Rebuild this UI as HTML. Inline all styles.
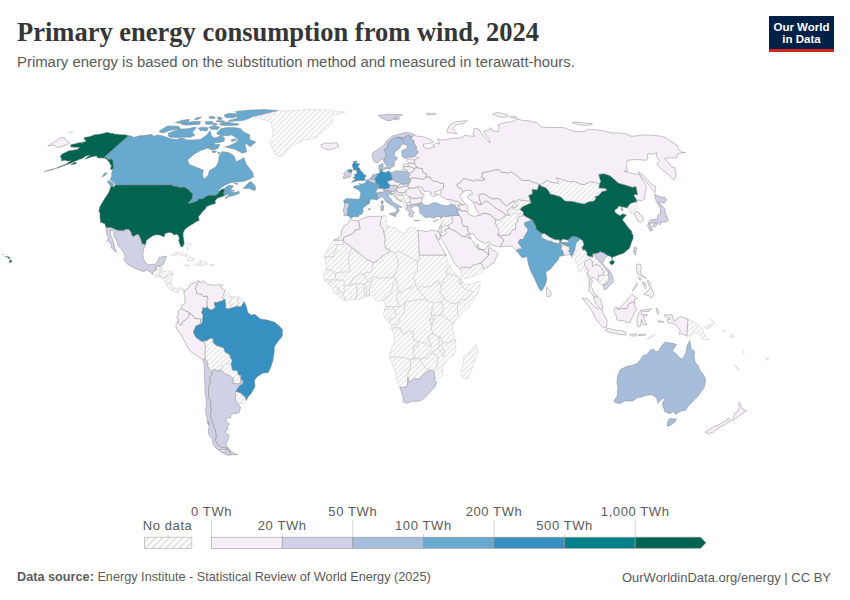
<!DOCTYPE html>
<html><head><meta charset="utf-8">
<style>
html,body{margin:0;padding:0;background:#fff;}
body{width:850px;height:600px;overflow:hidden;position:relative;font-family:"Liberation Sans",sans-serif;}
.t{position:absolute;white-space:nowrap;}
#title{left:17px;top:16.5px;font-family:"Liberation Serif",serif;font-weight:bold;font-size:26.5px;color:#363636;}
#sub{left:17px;top:53.5px;font-size:14.9px;color:#5b5b5b;}
#logo{position:absolute;left:769px;top:16px;width:65px;height:36px;background:#002147;}
#logo .red{position:absolute;left:0;bottom:0;width:65px;height:3px;background:#ce261e;}
#logo .l1,#logo .l2{position:absolute;left:0;width:65px;text-align:center;color:#fff;font-weight:bold;font-size:11.5px;line-height:12px;}
#logo .l1{top:19px}
#logo .l2{top:31px}
#foot1{left:17px;top:569.5px;font-size:12.7px;color:#5b5b5b;}
#foot2{right:19px;top:569.5px;font-size:13px;color:#5b5b5b;}
svg{position:absolute;left:0;top:0;}
.nd{fill:url(#hatch);stroke:#c8c8c8;stroke-width:0.45;}
path{stroke:#8a8a8a;stroke-width:0.5;stroke-linejoin:round;}
.bl{fill:none;}
.lg{font-family:"Liberation Sans",sans-serif;font-size:13px;letter-spacing:0.6px;fill:#5b5b5b;}
</style></head><body>
<div class="t" id="title">Primary energy consumption from wind, 2024</div>
<div class="t" id="sub">Primary energy is based on the substitution method and measured in terawatt-hours.</div>
<div id="logo"><div class="l1" style="top:5px">Our World</div><div class="l1" style="top:17px">in Data</div><div class="red"></div></div>
<svg width="850" height="600" viewBox="0 0 850 600">
<defs>
<pattern id="hatch" patternUnits="userSpaceOnUse" width="3.75" height="3.75" patternTransform="rotate(-45)">
<rect x="0" y="0" width="3.75" height="1.7" fill="#e8e8e8"/>
</pattern>
<pattern id="hatch2" patternUnits="userSpaceOnUse" width="4.8" height="4.8" patternTransform="rotate(-45)">
<rect x="0" y="0" width="4.8" height="1.6" fill="#dedede"/>
</pattern>
</defs>
<g id="map">
<path class="nd" d="M152.5,274.6 152.7,272.8 154.1,270.6 157.1,269.7 155.1,267.6 156.1,267.5 156.3,266.0 160.4,266.0 159.8,271.0 161.9,271.5 159.5,273.3 159.0,274.9 157.1,276.7 154.6,276.2Z"/>
<path class="nd" d="M160.4,266.0 162.6,264.2 162.7,266.8 162.0,269.4 160.4,271.0 159.8,271.0Z"/>
<path class="nd" d="M159.0,274.9 161.0,276.2 162.3,277.5 162.0,278.2 158.8,277.2 157.1,276.7Z"/>
<path class="nd" d="M159.0,274.9 159.5,273.3 161.9,271.5 167.0,271.0 170.9,271.2 173.2,273.3 169.7,274.1 167.2,276.5 164.7,277.8 163.3,278.6 162.3,277.5 161.0,276.2Z"/>
<path class="nd" d="M173.2,273.3 172.1,277.0 171.3,281.4 171.1,284.0 168.9,283.5 166.6,283.5 164.9,281.7 162.4,278.8 163.3,278.6 164.7,277.8 167.2,276.5 169.7,274.1Z"/>
<path class="nd" d="M171.1,284.0 173.7,287.4 172.5,291.3 171.2,290.5 167.9,287.4 166.2,285.3 166.6,283.5 168.9,283.5Z"/>
<path class="nd" d="M173.7,287.4 176.1,289.2 180.3,287.4 185.2,289.8 183.9,293.7 183.4,290.8 180.2,289.2 178.3,291.6 179.1,292.9 176.4,292.4 172.5,291.3Z"/>
<path class="nd" d="M171.4,255.3 173.7,253.5 178.4,252.2 181.7,252.5 186.5,254.3 188.9,256.1 192.2,257.7 195.1,259.5 193.4,260.5 187.1,260.5 188.0,258.5 185.8,256.1 181.3,255.6 178.3,254.5 174.6,255.1Z"/>
<path class="nd" d="M193.9,264.5 198.2,260.5 200.6,260.8 200.1,265.5 197.9,265.0Z"/>
<path class="nd" d="M200.6,260.8 204.7,261.3 208.0,263.9 204.3,264.5 200.7,266.5 200.1,265.5Z"/>
<path class="nd" d="M185.3,264.5 189.7,265.5 187.6,266.3 185.2,265.0Z"/>
<path class="nd" d="M210.5,264.2 214.1,264.7 213.5,265.5 210.4,265.5Z"/>
<path class="nd" d="M187.7,246.7 188.5,249.1 187.9,250.1 187.0,248.3ZM186.6,242.8 189.0,242.8 188.7,243.3ZM190.5,243.3 190.6,245.1 190.1,244.6Z"/>
<path class="nd" d="M221.0,286.1 223.2,284.3 223.3,286.1Z"/>
<path class="nd" d="M254.5,117.3 263.6,113.9 277.1,111.0 298.6,110.5 306.5,109.3 329.1,109.9 334.7,111.0 344.9,112.2 335.9,114.4 331.4,119.0 332.5,123.5 326.0,129.0 320.0,134.0 316.0,138.0 305.0,140.0 295.0,144.5 288.0,150.0 283.0,156.0 280.0,157.0 275.0,154.0 272.0,148.0 270.0,142.0 273.0,136.0 273.0,132.0 272.0,126.0 271.0,122.0 266.0,120.0 260.0,119.0Z"/>
<path class="nd" d="M225.2,290.3 228.5,293.4 231.4,296.8 231.1,299.4 229.5,302.0 230.4,303.9 232.6,307.5 228.2,309.1 225.7,307.8 225.7,304.6 225.3,301.2 224.5,298.9 223.3,298.9 221.8,297.1 223.9,294.7 223.7,293.2Z"/>
<path class="nd" d="M231.4,296.8 236.5,296.8 238.8,297.3 237.6,299.7 238.7,303.1 238.1,306.7 236.3,305.9 234.0,307.5 232.6,307.5 230.4,303.9 229.5,302.0 231.1,299.4Z"/>
<path class="nd" d="M238.8,297.3 241.3,298.4 244.2,301.5 241.1,306.7 238.1,306.7 238.7,303.1 237.6,299.7Z"/>
<path class="nd" d="M204.8,358.4 205.4,355.3 204.7,352.1 205.6,346.1 203.5,341.0 207.1,340.4 210.2,338.3 213.2,338.6 213.2,342.7 215.8,345.1 219.4,346.4 223.6,347.7 225.0,351.9 230.2,355.0 230.2,357.6 232.2,360.0 231.2,364.1 229.1,363.1 222.1,366.0 221.6,370.4 218.6,369.9 217.9,372.0 216.4,370.1 213.4,369.4 211.8,371.7 209.0,368.6 207.4,365.7 208.0,363.1 206.1,360.2Z"/>
<path class="nd" d="M231.2,364.1 232.4,370.1 237.2,370.7 238.5,375.1 241.0,375.1 240.7,379.3 240.9,382.7 238.8,384.0 232.3,383.2 234.0,379.0 228.8,375.1 225.9,374.6 221.6,370.4 222.1,366.0 229.1,363.1Z"/>
<path class="nd" d="M246.4,400.4 243.7,403.5 240.9,403.5 237.1,402.2 235.6,400.9 235.3,396.0 235.6,391.3 240.3,392.8 245.4,397.3Z"/>
<path class="nd" d="M396.0,194.7 399.8,195.0 402.3,195.5 403.8,197.8 403.0,199.1 401.8,201.7 399.6,200.4 395.6,196.5Z"/>
<path class="nd" d="M401.7,192.9 404.7,192.4 407.2,194.7 409.9,196.5 410.1,197.3 409.6,198.3 411.1,199.9 410.0,202.2 408.2,202.4 405.1,201.4 403.0,199.1 403.8,197.8 402.3,195.5 403.1,194.7Z"/>
<path class="nd" d="M401.8,201.7 403.0,199.1 405.1,201.4 403.8,203.2Z"/>
<path class="nd" d="M403.8,203.2 405.1,201.4 406.4,203.2 407.2,206.1 406.8,208.1 405.6,208.9 403.9,206.8 404.2,205.5Z"/>
<path class="nd" d="M416.9,187.1 418.6,186.3 422.3,187.8 424.4,191.4 422.4,192.7 421.1,193.9 420.4,190.6 418.3,188.1Z"/>
<path class="nd" d="M343.6,240.2 343.6,244.6 336.2,244.6 336.0,251.1 333.5,253.0 333.7,256.9 324.6,256.9 327.0,250.6 330.6,244.4 333.6,240.2Z"/>
<path class="nd" d="M381.6,216.2 385.0,215.4 387.0,216.2 386.0,219.1 387.1,220.6 385.0,223.0 387.5,225.6 388.2,226.1 385.7,229.7 384.0,233.7 382.8,228.7 379.7,225.8 380.8,220.6 381.2,218.8Z"/>
<path class="nd" d="M388.2,226.1 390.9,226.9 396.4,228.2 397.6,230.5 404.8,233.4 406.3,232.9 407.0,229.0 410.2,226.9 413.5,227.4 418.1,230.0 419.4,255.1 419.6,260.3 417.4,260.3 417.4,261.6 398.8,251.4 394.6,252.7 390.0,251.1 389.1,249.3 386.2,248.8 384.5,243.6 385.1,239.4 384.0,233.7 385.7,229.7Z"/>
<path class="nd" d="M446.3,255.1 447.9,263.1 450.3,265.5 447.0,268.4 446.4,275.2 446.0,277.2 443.8,279.3 443.0,283.5 441.7,284.8 441.3,287.7 438.4,280.6 437.0,281.7 431.8,285.6 425.0,287.4 420.6,285.6 417.9,290.0 415.5,284.0 414.5,280.4 413.4,278.8 415.3,272.0 417.7,271.5 417.4,261.6 417.4,260.3 419.6,260.3 419.4,255.1 433.9,255.1Z"/>
<path class="nd" d="M441.3,287.7 440.9,290.5 438.9,292.1 441.2,293.7 444.3,298.1 441.3,301.5 439.0,302.3 434.4,302.8 434.0,303.3 427.5,300.7 426.1,298.9 421.2,293.4 419.6,291.1 417.9,290.0 420.6,285.6 425.0,287.4 431.8,285.6 437.0,281.7 438.4,280.6Z"/>
<path class="nd" d="M450.3,265.5 452.6,271.0 457.1,274.6 460.5,278.8 461.7,279.3 460.1,279.9 456.3,275.7 451.0,274.9 449.5,273.6 446.4,275.2 447.0,268.4Z"/>
<path class="nd" d="M461.7,279.3 462.2,281.4 461.2,284.0 458.8,283.5 460.1,279.9Z"/>
<path class="nd" d="M446.4,275.2 449.5,273.6 451.0,274.9 456.3,275.7 460.1,279.9 458.8,283.5 461.2,284.0 464.1,289.0 473.1,291.6 466.6,299.4 462.0,299.7 459.5,302.0 454.7,303.6 450.6,303.1 448.0,301.0 445.7,300.5 444.3,298.1 441.2,293.7 438.9,292.1 440.9,290.5 441.3,287.7 441.7,284.8 443.0,283.5 443.8,279.3 446.0,277.2Z"/>
<path class="nd" d="M461.2,284.0 462.2,281.4 465.3,285.3 469.9,284.3 475.1,282.7 480.1,281.4 480.0,285.1 479.7,289.0 477.1,294.7 473.5,300.7 469.0,306.5 464.4,309.9 459.8,315.1 458.9,316.9 457.5,314.8 457.5,305.2 459.5,302.0 462.0,299.7 466.6,299.4 473.1,291.6 464.1,289.0Z"/>
<path class="nd" d="M458.9,316.9 455.6,319.8 453.3,324.7 449.9,320.6 441.6,315.1 441.2,312.2 442.8,309.3 443.7,307.5 441.3,301.5 444.3,298.1 445.7,300.5 448.0,301.0 450.6,303.1 454.7,303.6 459.5,302.0 457.5,305.2 457.5,314.8Z"/>
<path class="nd" d="M431.5,315.6 433.8,315.1 441.2,315.1 441.6,315.1 441.2,312.2 442.8,309.3 443.7,307.5 441.3,301.5 439.0,302.3 434.4,302.8 434.0,303.3 432.2,308.8 431.3,314.0Z"/>
<path class="nd" d="M453.3,324.7 452.3,329.4 453.8,333.3 454.1,338.6 455.7,339.6 449.0,342.7 443.2,342.7 442.3,342.5 441.1,337.3 438.8,337.0 434.7,334.9 433.3,334.1 430.9,328.1 432.1,324.2 433.7,321.3 434.0,318.5 433.8,315.1 441.2,315.1 441.6,315.1 449.9,320.6Z"/>
<path class="nd" d="M429.8,319.8 431.2,316.1 431.5,315.6 433.8,315.1 434.0,318.5 431.9,319.5Z"/>
<path class="nd" d="M429.8,319.8 431.9,319.5 434.0,318.5 433.7,321.3 432.1,324.2 430.7,324.0Z"/>
<path class="nd" d="M391.1,328.1 393.2,327.9 400.5,327.9 401.2,331.3 403.2,333.6 406.7,333.3 407.6,331.3 413.2,331.5 413.3,337.3 414.4,341.2 417.8,341.2 419.0,342.0 421.2,342.0 422.6,343.5 425.4,342.7 428.0,345.1 431.2,347.4 430.8,344.3 428.4,339.9 429.4,334.7 433.3,334.1 430.9,328.1 432.1,324.2 430.7,324.0 429.8,319.8 431.2,316.1 431.5,315.6 431.3,314.0 432.2,308.8 434.0,303.3 427.5,300.7 426.1,298.9 424.0,299.4 420.6,299.7 415.7,299.9 410.2,301.0 405.9,301.5 405.6,303.3 404.5,306.2 404.3,311.2 402.2,315.1 399.9,317.7 398.0,323.7 392.7,325.0Z"/>
<path class="nd" d="M388.6,322.6 390.7,325.5 392.7,325.0 398.0,323.7 399.9,317.7 402.2,315.1 404.3,311.2 404.5,306.2 405.6,303.3 400.4,306.7 393.0,306.5 393.7,309.1 396.0,313.8 396.2,317.4 391.8,318.7 390.2,319.0Z"/>
<path class="nd" d="M385.6,306.5 389.1,306.5 393.0,306.5 393.7,309.1 396.0,313.8 396.2,317.4 391.8,318.7 390.2,319.0 388.6,322.6 385.1,318.7 383.3,314.6 384.5,309.6Z"/>
<path class="nd" d="M384.5,309.6 389.1,309.9 389.1,306.5 385.6,306.5Z"/>
<path class="nd" d="M382.6,300.2 384.4,302.3 385.6,306.5 389.1,306.5 393.0,306.5 400.4,306.7 397.6,302.0 396.4,296.3 398.7,292.9 397.2,286.4 397.1,280.6 395.5,278.3 394.2,282.5 392.8,283.8 391.7,290.3 390.2,294.2 388.3,295.8 384.9,297.9 383.3,299.9Z"/>
<path class="nd" d="M400.4,306.7 405.6,303.3 405.9,301.5 410.2,301.0 415.7,299.9 420.6,299.7 424.0,299.4 426.1,298.9 421.2,293.4 419.6,291.1 417.9,290.0 415.5,284.0 411.2,287.7 405.7,289.0 402.1,291.9 398.7,292.9 396.4,296.3 397.6,302.0Z"/>
<path class="nd" d="M398.8,251.4 417.4,261.6 417.7,271.5 415.3,272.0 413.4,278.8 414.5,280.4 415.5,284.0 411.2,287.7 405.7,289.0 402.1,291.9 398.7,292.9 397.2,286.4 397.1,280.6 395.5,278.3 394.1,276.5 393.9,274.9 397.8,268.1 398.1,260.3 394.6,252.7Z"/>
<path class="nd" d="M390.0,251.1 394.6,252.7 398.1,260.3 397.8,268.1 393.9,274.9 394.1,276.5 391.2,278.0 385.9,277.8 379.7,278.5 374.5,276.5 372.4,277.2 371.3,281.9 368.5,281.4 365.3,278.5 363.5,273.6 366.5,272.5 371.2,271.8 372.8,268.4 372.8,262.4 376.2,261.8 380.0,257.9Z"/>
<path class="nd" d="M369.2,296.0 371.3,295.8 373.6,296.3 376.6,301.2 378.5,301.2 380.3,300.7 382.6,300.2 383.3,299.9 384.9,297.9 388.3,295.8 390.2,294.2 391.7,290.3 392.8,283.8 394.2,282.5 395.5,278.3 394.1,276.5 391.2,278.0 385.9,277.8 379.7,278.5 374.5,276.5 372.4,277.2 371.3,281.9 369.5,288.7Z"/>
<path class="nd" d="M324.6,256.9 325.6,261.6 326.6,268.1 325.4,270.5 329.8,269.2 333.4,272.0 335.2,274.4 336.8,272.0 338.6,273.1 341.1,272.0 350.5,272.0 349.6,269.9 348.3,257.7 352.0,247.5 343.6,241.2 343.6,244.6 336.2,244.6 336.0,251.1 333.5,253.0 333.7,256.9Z"/>
<path class="nd" d="M352.0,247.5 365.7,258.5 368.7,260.3 370.3,260.8 372.8,262.4 372.8,268.4 371.2,271.8 366.5,272.5 363.5,273.6 361.9,273.1 358.5,275.4 356.2,277.0 353.2,278.0 351.1,282.7 350.4,285.6 348.8,285.1 345.6,286.1 344.0,285.1 344.7,282.5 343.1,280.1 336.9,280.1 335.6,278.5 335.2,274.4 336.8,272.0 338.6,273.1 341.1,272.0 350.5,272.0 349.6,269.9 348.3,257.7Z"/>
<path class="nd" d="M350.4,285.6 356.4,283.8 363.0,283.8 365.1,283.8 368.5,281.4 365.3,278.5 363.5,273.6 361.9,273.1 358.5,275.4 356.2,277.0 353.2,278.0 351.1,282.7Z"/>
<path class="nd" d="M323.1,274.1 324.8,280.1 331.7,279.9 336.9,280.1 335.6,278.5 335.2,274.4 333.4,272.0 329.8,269.2 325.4,270.5 324.9,272.0Z"/>
<path class="nd" d="M324.8,280.1 331.7,279.9 331.6,281.9 328.4,283.8 325.2,281.4Z"/>
<path class="nd" d="M328.4,283.8 331.6,281.9 331.7,279.9 336.9,280.1 343.1,280.1 344.7,282.5 344.0,285.1 344.2,288.5 344.9,290.3 343.5,292.6 341.4,293.2 339.4,290.3 338.5,288.2 335.0,286.6 332.5,288.7 329.3,284.8Z"/>
<path class="nd" d="M332.5,288.7 334.3,292.9 336.8,294.5 338.4,291.1 339.4,290.3 338.5,288.2 335.0,286.6Z"/>
<path class="nd" d="M336.8,294.5 341.2,298.4 345.8,301.0 343.7,295.8 343.5,292.6 341.4,293.2 339.4,290.3 338.4,291.1Z"/>
<path class="nd" d="M345.8,301.0 350.4,299.2 355.9,299.2 357.3,291.1 356.8,287.7 356.4,283.8 350.4,285.6 348.8,285.1 345.6,286.1 344.0,285.1 344.2,288.5 344.9,290.3 343.5,292.6 343.7,295.8Z"/>
<path class="nd" d="M355.9,299.2 358.7,299.9 363.0,297.9 365.8,296.6 364.6,293.7 364.2,290.3 363.0,283.8 356.4,283.8 356.8,287.7 357.3,291.1Z"/>
<path class="nd" d="M365.8,296.6 366.7,296.3 366.7,289.0 365.1,283.8 363.0,283.8 364.2,290.3 364.6,293.7Z"/>
<path class="nd" d="M366.7,296.3 369.2,296.0 369.5,288.7 371.3,281.9 368.5,281.4 365.1,283.8 366.7,289.0Z"/>
<path class="nd" d="M391.1,328.1 393.8,334.4 394.2,342.5 391.6,348.0 389.7,354.2 389.9,357.6 393.5,356.8 404.6,357.9 410.3,359.4 416.0,358.1 413.2,354.7 413.4,346.4 417.9,346.4 418.1,340.9 417.8,341.2 414.4,341.2 413.3,337.3 413.2,331.5 407.6,331.3 406.7,333.3 403.2,333.6 401.2,331.3 400.5,327.9 393.2,327.9Z"/>
<path class="nd" d="M413.4,346.4 413.2,354.7 416.0,358.1 420.5,358.9 425.8,357.9 428.9,354.2 432.3,353.2 432.2,351.6 438.2,348.2 439.4,341.2 438.8,337.0 434.7,334.9 433.3,334.1 429.4,334.7 428.4,339.9 430.8,344.3 431.2,347.4 428.0,345.1 425.4,342.7 422.6,343.5 421.2,342.0 419.0,342.0 418.1,340.9 417.9,346.4Z"/>
<path class="nd" d="M438.8,337.0 441.1,337.3 442.3,342.5 442.1,347.7 444.3,350.6 444.8,354.5 442.9,357.1 441.3,352.4 438.2,348.2 439.4,341.2Z"/>
<path class="nd" d="M455.7,339.6 455.8,349.5 453.0,355.5 446.9,359.2 442.5,368.1 443.1,369.9 442.6,375.1 437.0,378.8 436.5,382.4 434.6,381.1 434.7,376.1 433.6,370.9 436.5,368.1 437.8,359.4 437.5,356.0 432.3,353.2 432.2,351.6 438.2,348.2 441.3,352.4 442.9,357.1 444.8,354.5 444.3,350.6 442.1,347.7 442.3,342.5 443.2,342.7 449.0,342.7Z"/>
<path class="nd" d="M420.5,358.9 425.8,357.9 428.9,354.2 432.3,353.2 437.5,356.0 437.8,359.4 436.5,368.1 433.6,370.9 429.4,370.1 426.3,368.6 421.9,363.4Z"/>
<path class="nd" d="M407.9,377.2 408.2,369.9 410.4,369.9 410.7,360.2 416.0,358.1 420.5,358.9 421.9,363.4 426.3,368.6 429.4,370.1 423.8,374.1 421.4,376.9 419.0,379.5 414.6,378.5 412.3,380.3 409.5,382.4Z"/>
<path class="nd" d="M389.9,357.6 391.4,362.1 395.7,372.2 397.0,380.3 399.7,387.1 401.7,387.6 407.3,386.8 407.9,377.2 408.2,369.9 410.4,369.9 410.7,360.2 416.0,358.1 410.3,359.4 404.6,357.9 393.5,356.8Z"/>
<path class="nd" d="M475.9,343.8 478.0,352.9 475.9,356.8 474.2,362.1 471.2,371.2 468.4,377.7 464.3,379.0 461.8,376.4 460.7,369.9 463.6,364.4 463.1,356.8 469.0,353.4 472.5,348.0 474.0,347.2Z"/>
<path class="nd" d="M460.5,269.7 460.4,271.5 462.1,278.5 466.0,278.8 473.9,275.9 482.1,271.8 483.9,269.2 481.0,262.9 472.1,265.5 470.0,268.4 468.6,267.6 463.1,267.1 461.7,266.8Z"/>
<path class="nd" d="M441.0,220.6 442.8,223.2 441.3,225.6 441.7,227.1 447.9,225.3 452.3,222.7 452.3,217.5 454.1,215.4 449.3,216.2 445.0,216.4 442.2,216.4 441.4,218.5 440.5,218.8Z"/>
<path class="nd" d="M440.6,235.7 441.2,230.3 441.1,227.1 441.7,227.1 447.9,225.3 449.1,228.4 444.5,230.3 447.0,232.9 443.9,235.5Z"/>
<path class="nd" d="M439.9,226.1 441.2,222.2 442.8,223.2 441.3,225.6Z"/>
<path class="nd" d="M450.7,204.2 454.9,205.3 458.0,205.0 461.3,205.5 461.1,203.5 457.0,201.1 455.0,201.4 451.8,199.9 446.4,199.3 450.0,201.4Z"/>
<path class="nd" d="M454.9,205.3 458.0,205.0 459.1,208.1 462.4,211.2 461.3,211.0 458.3,208.9 455.4,206.8Z"/>
<path class="nd" d="M531.6,203.0 528.4,204.0 525.6,205.5 522.9,206.6 520.0,209.4 516.1,209.9 510.6,207.9 512.7,205.5 512.9,207.6 515.2,207.6 517.6,205.8 513.3,200.9 517.1,201.7 517.9,199.6 524.1,200.6 528.3,200.9Z"/>
<path class="nd" d="M509.0,215.4 507.0,210.2 508.9,209.4 510.6,207.9 516.1,209.9 520.0,209.4 523.3,212.0 523.4,214.6 516.5,213.6 514.6,212.3 512.2,214.6Z"/>
<path class="nd" d="M497.8,234.4 498.9,230.5 496.2,225.0 494.9,223.2 495.7,219.6 499.1,220.4 502.4,217.7 506.1,214.9 509.0,215.4 512.2,214.6 514.6,212.3 516.5,213.6 523.4,214.6 524.4,215.7 519.6,216.4 517.6,218.0 518.0,221.4 515.8,223.7 515.4,229.2 512.3,230.0 509.6,234.7 501.6,235.7Z"/>
<path class="nd" d="M540.9,237.3 542.2,233.7 544.5,233.4 550.0,237.3 554.5,239.4 559.2,239.7 559.8,243.6 554.7,243.1 550.3,241.0 548.8,241.2 543.1,238.4Z"/>
<path class="nd" d="M561.8,242.5 561.1,241.2 562.4,238.9 567.3,239.9 568.5,241.2 568.5,242.5 564.9,242.5Z"/>
<path class="nd" d="M539.0,184.8 539.7,184.5 540.8,186.0 545.7,187.8 549.3,191.9 549.8,193.9 556.3,195.5 560.7,197.0 564.9,201.1 572.5,201.4 579.7,203.2 584.2,204.0 588.3,201.9 594.1,200.9 596.0,198.6 594.8,197.0 598.7,195.5 602.1,191.6 605.3,190.9 607.3,190.1 604.8,188.3 599.0,188.1 599.5,183.8 596.7,182.8 590.6,181.7 584.3,184.5 581.2,184.3 575.6,181.7 570.7,181.7 567.0,181.2 556.2,177.5 557.3,180.0 558.9,181.5 558.1,183.3 552.7,182.5 546.4,180.5 542.6,183.5Z"/>
<path class="nd" d="M627.1,208.1 629.3,209.4 630.4,213.1 632.0,214.1 634.0,213.8 635.1,212.5 637.5,211.8 634.2,208.6 636.0,207.6 637.3,205.8 636.3,204.0 636.9,201.9 635.1,201.9 632.1,203.0 630.1,203.5Z"/>
<path class="nd" d="M571.5,256.4 575.3,261.1 577.4,264.7 577.9,270.7 580.5,271.5 583.8,268.4 585.8,272.0 587.6,277.2 589.3,283.8 589.0,286.4 590.0,278.8 587.6,273.3 588.3,270.2 585.0,265.5 584.3,263.9 585.5,261.1 588.2,259.2 589.5,259.2 590.3,258.2 591.6,256.6 589.1,256.4 586.8,254.8 587.2,252.7 584.9,249.8 582.6,249.8 582.2,247.2 584.0,244.9 582.8,240.7 579.7,238.6 579.1,240.2 576.2,243.1 575.1,246.7 574.8,250.4 573.2,252.5 573.2,254.5 572.2,255.1Z"/>
<path class="nd" d="M591.6,256.6 593.0,257.1 592.5,254.8 593.4,253.8 595.3,255.8 595.9,258.2 599.4,260.3 600.3,262.9 603.9,266.0 606.3,269.7 608.2,272.0 608.8,275.2 605.2,275.2 602.9,275.2 603.8,271.8 601.1,267.1 597.4,264.7 594.9,265.0 592.4,266.5 592.3,261.3 589.5,259.2 590.3,258.2Z"/>
<path class="nd" d="M598.0,280.6 598.3,275.4 602.9,275.2 605.2,275.2 608.8,275.2 609.2,280.4 606.8,282.2 605.6,283.8 602.5,285.3 599.4,283.5Z"/>
<path class="nd" d="M646.3,339.3 650.5,336.2 655.5,334.4 649.9,338.3Z"/>
<path class="nd" d="M687.9,319.3 695.8,322.4 698.7,325.3 702.4,328.1 703.2,329.7 703.6,333.3 705.9,336.0 709.0,339.3 706.4,339.9 702.1,338.8 698.5,333.6 694.0,332.3 692.1,336.0 686.8,336.2ZM704.3,327.1 708.3,325.5 713.0,323.4 711.7,326.8 708.1,328.6 704.5,328.1ZM710.5,319.3 714.2,322.4 715.3,324.5 712.7,320.8Z"/>
<path class="nd" d="M70.2,131.7 73.6,132.2 68.1,133.0Z"/>
<path class="nd" d="M734.3,364.9 736.3,366.0 739.6,370.7 737.7,369.4Z"/>
<path class="nd" d="M766.1,358.1 768.9,357.9 767.9,360.0 766.0,359.7Z"/>
<path class="nd" d="M743.4,350.6 744.3,352.9 743.4,353.2Z"/>
<path class="nd" d="M723.0,329.7 725.1,331.5 723.7,331.8ZM730.1,334.7 732.1,338.0 730.1,337.5ZM732.0,334.1 733.7,337.5 732.7,336.2Z"/>
<path fill="#67a9cf" d="M115.3,185.0 114.9,184.0 113.5,181.7 109.8,180.0 111.6,176.7 111.7,173.7 112.2,170.8 112.2,170.8 113.7,168.5 113.3,165.1 113.1,162.2 112.7,160.3 111.8,159.0 108.1,159.6 106.7,157.6 104.2,157.2 128.4,135.8 131.4,136.0 134.0,137.4 139.2,135.8 143.6,135.6 148.0,135.0 151.8,134.3 153.7,136.3 157.1,135.0 161.3,135.4 166.1,137.1 170.4,138.7 176.6,139.4 181.2,138.0 183.5,138.3 186.3,139.8 190.4,140.0 195.7,139.8 200.3,139.4 205.6,136.0 210.3,130.7 211.0,134.5 211.9,136.5 214.9,138.0 221.9,135.4 224.8,138.3 223.7,141.6 218.3,142.7 214.0,142.7 215.0,143.3 207.5,148.3 200.8,150.4 194.2,154.2 187.5,160.0 189.2,164.2 196.7,167.5 203.3,170.0 202.5,175.8 204.2,179.2 208.3,175.0 209.2,170.8 215.8,166.7 218.3,162.5 219.2,155.8 221.7,151.7 226.0,152.0 230.0,153.0 234.0,156.0 236.0,161.5 240.0,160.0 244.0,157.5 246.0,164.0 250.0,169.0 253.0,173.0 253.5,177.0 250.0,179.0 243.8,181.4 236.7,182.1 230.3,182.8 225.4,184.9 221.2,187.7 218.3,190.2 219.1,190.9 223.3,189.1 228.2,185.6 232.5,185.6 233.2,187.0 231.0,189.1 231.8,191.9 235.3,192.6 238.8,191.2 239.5,193.3 233.9,195.5 228.2,196.8 225.4,199.0 225.6,197.4 229.6,194.6 228.0,194.2 224.7,195.3 224.5,195.7 223.6,193.4 224.7,190.1 224.1,189.3 222.2,189.1 219.9,190.9 217.3,194.2 215.3,195.2 208.7,195.2 207.3,195.7 204.7,197.3 203.1,198.8 199.1,198.8 198.0,199.6 197.8,200.6 194.8,201.9 192.3,202.4 189.1,203.7 188.5,202.7 190.8,200.4 192.0,198.8 192.9,194.5 191.5,192.4 189.7,191.6 189.7,190.4 184.1,186.8 181.3,187.6 178.7,187.1 175.9,186.3 174.0,186.0 172.1,185.8 171.8,184.0 171.3,185.0 115.3,185.0ZM216.7,132.9 220.8,128.8 227.1,127.4 234.1,127.4 240.5,128.5 242.6,130.9 243.3,131.7 250.0,135.0 249.2,139.2 255.8,142.1 250.0,146.7 246.7,143.8 245.0,144.6 246.7,151.7 242.5,153.3 235.0,149.2 225.0,147.1 229.2,145.8 235.8,142.5 238.3,140.0 235.0,136.7 231.7,135.0 226.7,135.8 221.7,135.4 217.5,134.6ZM168.2,133.3 173.2,131.2 179.5,129.1 188.0,128.7 193.6,127.3 196.5,127.6 192.2,132.6 195.0,135.0 190.8,137.2 183.8,137.2 176.7,137.5 169.6,137.2 168.2,135.4ZM159.1,131.2 167.5,125.9 178.8,126.2 180.2,128.7 169.6,130.5 163.3,132.9 160.5,132.6ZM235.5,111.5 249.6,110.1 263.8,109.4 277.9,110.5 269.4,112.6 260.9,114.7 252.5,116.5 249.6,118.2 244.0,120.3 236.2,121.1 227.8,121.4 229.9,120.0 236.9,118.6 237.6,115.8ZM219.6,123.3 223.9,121.9 229.5,122.6 239.0,123.9 237.6,125.3 229.5,125.5 221.0,125.3ZM224.2,115.1 228.5,113.3 235.5,113.6 237.6,115.8 234.8,117.5 227.1,117.9 224.9,116.8ZM175.3,122.7 182.3,120.2 189.4,119.2 188.7,121.6 183.0,123.4 178.1,123.1ZM180.9,124.1 189.4,122.0 195.8,121.3 200.6,121.5 199.3,124.5 193.6,124.7 185.9,125.2ZM198.5,128.0 203.0,127.2 208.3,127.8 207.0,131.0 200.0,130.5ZM209.0,127.0 214.0,126.1 219.6,127.0 218.0,129.6 211.0,129.3ZM207.5,145.5 212.0,144.0 220.0,144.5 218.0,148.5 213.0,150.0 209.0,149.0ZM211.7,151.5 214.5,150.8 216.7,151.5 214.0,152.9ZM217.5,152.5 219.0,152.0 220.0,153.3 218.5,154.0ZM230.8,140.0 235.0,138.8 236.7,140.0 232.0,141.7ZM205.0,122.0 209.0,121.2 213.6,122.0 212.0,124.3 206.0,124.3ZM212.6,124.0 215.0,123.3 217.5,124.0 216.0,125.4 213.0,125.2ZM194.2,119.4 197.0,117.5 201.6,117.0 199.0,119.0 195.5,119.8ZM208.7,117.0 211.0,116.2 215.4,117.2 214.5,118.7 210.0,118.3ZM217.5,117.3 220.0,117.0 222.5,118.5 221.0,119.8 218.0,119.3ZM216.0,121.0 219.0,120.5 224.6,121.0 224.0,121.9 217.0,121.9ZM249.4,182.1 251.5,181.8 253.6,184.2 255.8,187.0 255.0,190.5 252.2,189.8 249.4,188.4 243.0,188.4 245.9,185.6ZM110.4,186.3 113.7,186.5 113.0,182.8 107.8,180.5 107.9,182.5 109.8,185.0ZM106.9,172.5 105.8,175.0 102.2,177.0 103.9,173.7ZM231.5,190.8 235.0,190.3 234.0,191.3ZM233.9,183.1 238.1,183.8 236.7,184.5Z"/>
<path fill="#016450" d="M115.3,185.0 171.3,185.0 171.8,184.0 172.1,185.8 174.0,186.0 175.9,186.3 178.7,187.1 181.3,187.6 184.1,186.8 189.7,190.4 189.7,191.6 191.5,192.4 192.9,194.5 192.0,198.8 190.8,200.4 188.5,202.7 189.1,203.7 192.3,202.4 194.8,201.9 197.8,200.6 198.0,199.6 199.1,198.8 203.1,198.8 204.7,197.3 207.3,195.7 208.7,195.2 215.3,195.2 217.3,194.2 219.9,190.9 222.2,189.1 224.1,189.3 224.7,190.1 223.6,193.4 224.5,195.7 224.5,195.7 220.9,197.0 216.9,198.6 215.0,201.1 215.7,203.5 212.2,204.5 206.5,206.6 205.3,209.2 202.8,211.2 199.8,215.4 198.5,216.2 199.2,220.4 195.7,221.9 192.8,224.0 189.7,225.8 185.2,229.0 183.3,232.4 183.1,235.5 183.8,239.4 184.2,243.3 182.8,246.7 181.2,247.0 180.0,244.4 178.7,240.7 179.2,238.1 177.7,234.4 176.2,234.4 174.1,235.0 171.9,233.1 168.7,232.4 164.9,233.7 164.6,236.5 162.9,236.5 160.1,235.2 156.7,234.7 153.1,235.7 149.9,237.8 146.4,240.4 145.5,244.9 145.5,244.9 141.7,243.6 141.2,240.7 140.1,237.8 138.5,234.7 136.1,234.7 133.7,236.8 131.5,235.2 131.1,232.6 128.8,229.5 125.0,229.5 124.6,230.8 118.4,230.8 111.1,227.7 106.1,227.7 106.1,227.7 104.7,223.7 100.5,222.2 99.9,217.0 100.0,213.8 98.9,210.7 99.7,207.1 102.0,203.0 104.7,198.6 108.9,192.2 110.8,186.5 113.9,187.1 115.3,185.0ZM128.4,135.8 125.6,134.7 121.8,134.7 117.9,134.3 114.1,134.1 113.3,133.2 110.0,133.2 107.8,132.2 103.8,133.2 99.3,134.3 95.3,134.5 90.0,136.5 84.2,137.4 84.2,139.4 85.8,140.0 85.4,141.8 81.2,142.5 82.8,143.6 80.0,142.5 70.7,144.8 70.8,147.1 74.3,147.3 79.6,147.3 77.6,149.2 72.8,150.3 68.8,150.8 61.6,154.3 60.2,156.7 61.5,158.4 61.4,161.0 65.2,160.3 68.0,161.2 71.0,160.5 66.6,163.7 62.2,165.6 56.6,168.1 51.2,170.0 44.2,171.5 53.2,169.0 58.4,167.8 65.4,165.1 70.9,163.2 75.7,161.0 79.8,159.3 82.6,158.6 85.4,156.2 90.1,155.0 84.4,159.3 88.7,157.9 91.9,156.7 96.3,156.0 97.9,157.9 103.2,158.1 106.2,158.8 108.0,160.8 109.4,162.2 110.2,164.4 111.3,165.8 110.6,168.5 110.9,170.0 113.7,168.5 113.3,165.1 113.1,162.2 112.7,160.3 111.8,159.0 108.1,159.6 106.7,157.6 104.2,157.2ZM70.7,165.1 76.4,163.7 76.0,162.0 72.5,163.4ZM9.2,262.9 12.2,261.6 10.5,259.5 9.7,260.8ZM5.4,256.9 7.0,256.9 6.3,255.8ZM2.5,255.1 3.7,254.5 3.1,254.3ZM7.0,256.6 9.2,257.1 10.2,258.6 8.4,258.4Z"/>
<path fill="#d0d1e6" d="M106.1,227.7 111.1,227.7 118.4,230.8 124.6,230.8 125.0,229.5 128.8,229.5 131.1,232.6 131.5,235.2 133.7,236.8 136.1,234.7 138.5,234.7 140.1,237.8 141.2,240.7 141.7,243.6 145.5,244.9 143.9,248.5 142.8,253.8 143.3,257.7 144.7,262.1 147.4,263.9 148.4,265.0 152.2,264.2 155.3,264.2 157.4,262.1 158.9,257.9 163.2,256.4 166.6,256.4 165.2,259.8 163.7,264.2 162.6,264.2 160.4,266.0 156.3,266.0 156.1,267.5 155.1,267.6 157.1,269.7 154.1,270.6 152.7,272.8 152.5,274.6 150.1,271.8 147.3,270.2 143.0,271.5 139.1,269.9 136.1,268.9 131.8,266.5 128.0,264.7 125.1,261.6 123.9,259.2 125.2,256.6 124.2,253.0 120.8,248.5 118.2,245.7 116.5,239.9 114.0,236.8 113.7,231.1 110.3,230.0 110.3,234.2 112.2,238.4 113.7,243.1 115.2,249.3 116.7,251.9 114.8,251.4 111.3,247.8 111.7,244.6 108.2,241.5 107.1,239.9 108.5,238.1 106.8,234.7 106.1,230.3Z"/>
<path fill="#f6eff7" d="M183.9,293.7 185.5,289.8 188.6,287.7 189.9,284.8 193.0,283.0 195.8,282.2 198.2,280.1 199.7,281.7 197.3,283.5 195.6,288.7 196.7,291.6 196.6,293.2 199.8,294.2 201.8,294.2 203.4,296.6 207.3,296.0 208.1,299.4 206.9,300.7 207.3,306.7 208.8,309.2 207.5,307.3 205.9,308.0 202.2,308.0 203.1,309.3 202.1,310.9 201.7,313.0 202.6,313.8 203.1,315.3 202.1,323.4 200.2,322.4 200.8,319.0 194.8,318.7 193.2,315.9 189.5,312.9 188.3,312.2 184.6,310.4 181.4,308.8 181.2,306.2 184.5,303.9 185.0,302.0 185.0,295.5Z"/>
<path fill="#f6eff7" d="M199.7,281.7 202.2,282.7 203.2,280.6 205.1,282.7 206.7,284.0 211.2,284.8 215.5,285.3 218.6,284.5 220.8,284.8 221.0,286.4 223.4,290.0 225.2,290.3 223.7,293.2 223.9,294.7 221.8,297.1 223.3,298.9 224.5,298.9 222.8,300.7 218.6,301.8 217.7,302.6 214.3,302.6 215.3,307.5 212.1,310.1 208.8,309.2 207.3,306.7 206.9,300.7 208.1,299.4 207.3,296.0 203.4,296.6 201.8,294.2 199.8,294.2 196.6,293.2 196.7,291.6 195.6,288.7 197.3,283.5 199.7,281.7Z"/>
<path fill="#f6eff7" d="M181.4,308.8 184.6,310.4 188.3,312.2 189.5,312.9 189.0,316.6 186.5,319.3 182.5,321.9 182.1,324.5 180.5,325.3 177.9,322.9 178.1,321.3 179.2,319.5 176.6,318.2 178.4,314.8 178.4,310.4Z"/>
<path fill="#f6eff7" d="M178.1,321.3 175.9,324.7 176.2,328.1 180.1,333.1 183.7,339.6 188.6,348.5 191.5,352.4 198.5,356.6 203.2,360.2 204.8,358.4 205.4,355.3 204.7,352.1 205.6,346.1 203.5,341.0 201.4,341.2 195.9,337.3 193.4,332.0 195.9,326.0 202.1,323.4 200.2,322.4 200.8,319.0 194.8,318.7 193.2,315.9 189.5,312.9 189.0,316.6 186.5,319.3 182.5,321.9 182.1,324.5 180.5,325.3 177.9,322.9Z"/>
<path fill="#3690c0" d="M244.2,301.5 246.7,307.5 247.8,312.5 251.2,315.1 254.7,314.3 260.5,319.0 267.4,320.0 274.4,322.1 279.0,325.8 282.5,329.4 282.4,336.0 278.2,341.2 274.5,346.4 274.1,352.9 272.9,360.7 270.8,367.3 268.4,372.5 262.6,373.3 257.5,376.4 254.5,380.3 255.0,386.8 251.2,393.4 248.2,396.8 246.4,400.4 245.4,397.3 240.3,392.8 235.6,391.3 238.5,386.8 240.1,385.3 243.0,383.2 243.1,380.6 240.7,379.3 241.0,375.1 238.5,375.1 237.2,370.7 232.4,370.1 231.2,364.1 232.2,360.0 230.2,357.6 230.2,355.0 225.0,351.9 223.6,347.7 219.4,346.4 215.8,345.1 213.2,342.7 213.2,338.6 210.2,338.3 207.1,340.4 203.5,341.0 201.4,341.2 195.9,337.3 193.4,332.0 195.9,326.0 202.1,323.4 203.1,315.3 202.6,313.8 201.7,313.0 202.1,310.9 203.1,309.3 202.2,308.0 205.9,308.0 207.5,307.3 208.8,309.2 212.1,310.1 215.3,307.5 214.3,302.6 217.7,302.6 218.6,301.8 222.8,300.7 224.5,298.9 225.3,301.2 225.7,304.6 225.7,307.8 228.2,309.1 232.6,307.5 234.0,307.5 236.3,305.9 238.1,306.7 241.1,306.7Z"/>
<path fill="#d0d1e6" d="M235.6,391.3 235.3,396.0 235.6,400.9 238.9,404.6 240.5,407.5 239.4,412.1 236.5,413.4 230.6,414.0 230.9,417.6 225.7,418.6 226.2,422.0 228.2,423.0 229.7,424.1 227.6,425.9 227.5,429.7 224.8,432.3 229.1,435.3 227.2,441.9 225.9,443.2 226.5,446.2 228.5,448.2 221.3,447.5 219.8,446.0 217.2,444.0 215.2,440.4 216.0,437.4 216.1,434.3 215.0,429.5 213.4,425.9 212.3,422.0 210.7,418.1 210.5,414.0 211.0,411.1 210.7,406.4 210.7,401.2 208.3,397.3 208.7,391.3 208.3,386.8 210.5,382.7 209.3,377.2 211.8,375.1 211.8,371.7 213.4,369.4 216.4,370.1 217.9,372.0 218.6,369.9 221.6,370.4 225.9,374.6 228.8,375.1 234.0,379.0 232.3,383.2 238.8,384.0 240.9,382.7 240.7,379.3 243.1,380.6 243.0,383.2 240.1,385.3 238.5,386.8ZM228.4,449.0 231.5,451.2 234.5,453.7 237.6,454.7 230.9,454.7Z"/>
<path fill="#d0d1e6" d="M203.4,360.5 204.5,368.6 204.3,375.1 205.0,384.5 204.8,390.8 206.2,398.6 206.5,405.1 205.4,409.5 206.3,415.5 207.9,421.5 209.4,424.6 208.7,428.4 208.4,433.8 212.5,439.2 212.7,443.7 215.8,448.0 220.8,451.2 225.1,452.2 226.0,449.7 228.5,448.2 221.3,447.5 219.8,446.0 217.2,444.0 215.2,440.4 216.0,437.4 216.1,434.3 215.0,429.5 213.4,425.9 212.3,422.0 210.7,418.1 210.5,414.0 211.0,411.1 210.7,406.4 210.7,401.2 208.3,397.3 208.7,391.3 208.3,386.8 210.5,382.7 209.3,377.2 211.8,375.1 211.8,371.7 209.0,368.6 207.4,365.7 208.0,363.1 206.1,360.2 204.8,358.4ZM228.4,449.0 230.9,454.7 228.5,455.4 223.9,453.7 219.0,449.5 223.9,449.5ZM208.4,421.5 207.2,421.7 208.6,425.3 209.3,423.5Z"/>
<path fill="#3690c0" d="M351.6,182.4 354.7,181.5 357.1,180.7 360.4,180.5 363.6,180.5 365.8,179.5 364.2,178.7 366.4,175.7 363.6,174.2 362.6,172.2 360.7,171.0 360.0,168.5 358.3,167.6 357.7,166.8 359.1,164.9 359.6,163.7 356.8,163.4 355.3,163.7 357.4,161.2 353.7,161.2 353.3,163.4 352.2,165.1 352.4,166.8 353.5,168.1 353.6,170.0 357.1,170.3 356.4,171.7 357.2,174.0 354.1,174.2 354.8,175.5 354.8,177.0 352.8,178.0 356.3,179.0 354.7,179.5ZM351.5,169.5 352.4,171.0 351.4,172.5 348.9,172.2 347.6,171.3 349.2,169.9Z"/>
<path fill="#d0d1e6" d="M351.4,172.5 351.1,174.2 350.4,177.0 348.2,177.5 343.6,178.7 342.7,177.2 344.4,175.7 343.5,173.7 345.6,171.7 347.3,169.8 348.8,169.0 349.2,169.9 347.6,171.3 348.9,172.2Z"/>
<path fill="#f6eff7" d="M320.7,144.8 325.1,143.0 331.0,143.4 337.2,142.7 337.7,145.2 339.2,145.9 336.8,147.5 329.7,149.9 324.1,148.7 323.0,147.5 321.0,146.4Z"/>
<path fill="#d0d1e6" d="M383.5,160.3 382.6,158.1 380.7,160.3 378.0,162.4 375.4,162.4 373.4,160.5 372.6,156.9 372.1,153.6 374.2,151.7 378.1,149.6 381.5,147.3 384.7,143.9 386.9,140.5 390.0,138.3 392.7,135.8 396.2,135.0 401.6,133.4 405.2,132.6 408.9,132.8 414.2,134.3 414.2,135.4 411.4,137.0 407.8,135.2 406.0,136.5 403.4,137.8 398.2,137.1 397.6,137.1 393.4,138.3 391.1,140.3 388.1,143.6 387.5,147.1 384.4,149.6 385.2,152.4 386.3,154.8 385.4,156.9 384.3,159.3 383.5,160.3Z"/>
<path fill="#a6bddb" d="M383.5,160.3 383.8,162.0 385.5,164.1 387.7,168.1 387.8,169.0 390.3,169.0 391.6,167.3 394.2,166.1 394.2,163.2 394.4,161.2 396.9,159.6 397.4,157.4 394.5,156.2 394.5,153.8 395.3,151.7 398.2,149.6 400.1,147.8 400.6,145.7 402.4,144.3 405.1,144.3 403.6,142.1 402.9,139.6 397.6,137.1 393.4,138.3 391.1,140.3 388.1,143.6 387.5,147.1 384.4,149.6 385.2,152.4 386.3,154.8 385.4,156.9 384.3,159.3 383.5,160.3Z"/>
<path fill="#a6bddb" d="M405.1,144.3 407.5,146.2 407.5,147.8 405.2,148.9 401.6,150.8 402.0,153.8 402.2,156.2 405.3,158.4 409.0,157.4 414.0,156.7 415.8,155.0 418.8,152.2 416.2,149.4 416.7,147.1 414.3,143.9 413.9,140.3 411.4,138.9 411.4,137.0 407.8,135.2 406.0,136.5 403.4,137.8 398.2,137.1 397.6,137.1 402.9,139.6 403.6,142.1 405.1,144.3Z"/>
<path fill="#a6bddb" d="M378.6,168.8 379.3,164.9 383.0,163.4 382.6,166.1 383.8,166.6 382.1,168.1 382.1,170.0 381.5,170.4 379.6,170.3ZM384.2,169.3 387.2,168.5 386.3,167.3 384.0,167.8ZM381.8,168.8 383.8,169.3 383.0,170.0 382.1,169.8Z"/>
<path fill="#3690c0" d="M377.1,174.5 376.7,173.7 378.6,173.5 379.7,172.7 380.2,171.3 379.6,170.3 382.1,170.5 382.3,171.0 384.4,172.5 386.7,172.0 388.9,171.0 390.6,172.7 391.2,174.5 391.7,176.0 392.0,177.2 392.8,179.7 391.4,180.0 387.4,181.7 388.1,183.0 389.2,184.3 390.9,185.5 389.3,186.8 389.0,188.3 385.4,189.1 382.6,188.8 380.5,188.6 378.5,188.6 378.2,187.8 379.6,185.2 375.9,183.8 375.2,182.2 375.2,180.5 374.9,177.7 376.4,177.0 377.0,175.7 377.1,174.5Z"/>
<path fill="#a6bddb" d="M369.8,179.0 371.5,176.7 372.4,175.0 374.5,174.0 377.1,174.5 377.0,175.7 376.4,177.0 374.9,177.7 375.2,180.5 374.8,180.6 372.9,179.0Z"/>
<path fill="#d0d1e6" d="M368.0,179.7 369.8,179.0 372.9,179.0 374.8,180.6 375.2,180.5 375.8,181.7 374.7,183.8 372.6,182.8 371.4,182.8 368.2,180.5Z"/>
<path fill="#f6eff7" d="M374.7,183.8 375.9,183.8 375.2,182.2 374.8,182.2Z"/>
<path fill="#67a9cf" d="M359.3,199.3 360.5,196.0 360.6,192.4 358.5,189.9 353.9,187.8 353.5,186.3 357.0,185.5 359.8,185.8 359.2,183.3 360.6,184.0 363.4,183.8 365.8,182.2 366.2,180.2 368.0,179.7 368.2,180.5 371.4,182.8 372.6,182.8 374.7,183.8 375.9,183.8 379.6,185.2 378.2,187.8 378.5,188.6 377.3,188.8 375.5,192.2 377.2,192.9 376.7,195.0 377.6,197.3 378.6,198.3 376.8,200.1 373.5,199.3 371.4,199.1 369.3,201.4 369.7,201.9 366.8,201.9 364.5,200.9 362.0,200.9ZM382.7,200.4 383.2,202.7 382.4,204.5 381.1,203.2 381.3,201.4Z"/>
<path fill="#67a9cf" d="M359.3,199.3 355.1,199.1 350.7,198.8 346.4,198.6 343.6,200.4 344.3,203.0 345.8,202.7 349.6,203.7 348.7,205.5 348.4,207.6 347.1,209.2 347.9,210.7 347.0,212.8 347.1,215.4 349.2,216.4 350.9,218.5 353.5,216.7 358.5,216.7 359.6,214.6 361.5,214.4 363.5,211.2 362.4,209.4 364.9,206.3 369.8,203.2 369.7,201.9 366.8,201.9 364.5,200.9 362.0,200.9ZM367.9,209.2 370.3,208.6 369.9,209.9Z"/>
<path fill="#d0d1e6" d="M344.3,203.0 344.4,206.8 342.7,211.2 344.2,212.5 343.9,215.9 347.1,215.4 347.0,212.8 347.9,210.7 347.1,209.2 348.4,207.6 348.7,205.5 349.6,203.7 345.8,202.7Z"/>
<path fill="#f6eff7" d="M375.5,192.2 377.3,188.8 378.5,188.6 380.5,188.6 382.6,188.8 384.3,190.1 384.3,191.4 381.9,192.7 380.7,192.4 379.1,192.9 377.2,192.9Z"/>
<path fill="#d0d1e6" d="M382.6,188.8 385.4,189.1 389.0,188.3 389.3,186.8 390.9,185.5 393.2,185.0 397.2,186.0 397.7,187.6 395.9,190.4 395.7,190.9 392.9,191.6 391.1,191.4 388.4,190.9 384.3,190.4 384.3,190.1Z"/>
<path fill="#a6bddb" d="M378.6,198.3 377.6,197.3 376.7,195.0 377.2,192.9 379.1,192.9 380.7,192.4 381.9,192.7 384.3,191.4 388.4,190.9 391.1,191.4 391.2,193.7 388.4,194.5 388.8,197.0 391.4,199.1 392.4,201.4 395.0,203.2 396.8,204.2 400.1,206.1 402.3,207.9 400.8,207.4 399.5,206.8 398.1,208.6 399.5,210.7 398.3,211.5 397.4,213.6 396.4,212.5 397.1,209.7 395.5,208.1 393.1,206.1 389.6,204.2 386.5,201.9 385.0,200.4 384.2,198.1 381.5,196.8ZM389.6,213.6 396.4,212.5 395.6,216.7 389.9,214.4ZM380.8,205.5 383.8,205.8 383.5,210.2 381.0,210.7Z"/>
<path fill="#a6bddb" d="M390.6,172.7 394.0,171.7 397.0,170.5 399.0,171.5 401.1,171.5 407.0,171.7 408.7,172.7 409.8,174.7 408.7,176.7 409.7,178.7 410.8,180.7 409.0,183.5 408.5,184.8 406.4,184.0 402.9,184.5 401.0,183.8 399.0,182.5 396.2,182.0 392.8,179.7 392.0,177.2 391.7,176.0 391.2,174.5Z"/>
<path fill="#f6eff7" d="M387.4,181.7 391.4,180.0 392.8,179.7 396.2,182.0 399.0,182.5 401.0,183.8 398.5,185.5 397.2,186.0 393.2,185.0 390.9,185.5 389.2,184.3 388.1,183.0Z"/>
<path fill="#f6eff7" d="M397.2,186.0 398.5,185.5 401.0,183.8 402.9,184.5 406.4,184.0 408.5,184.8 407.7,186.5 405.0,186.0 401.1,187.3 397.7,187.6Z"/>
<path fill="#f6eff7" d="M395.9,190.4 397.7,187.6 401.1,187.3 405.0,186.0 407.7,186.5 409.5,187.8 407.1,190.4 404.7,192.4 401.7,192.9 399.2,192.9 396.8,191.4Z"/>
<path fill="#f6eff7" d="M391.1,191.4 392.9,191.6 395.7,190.9 395.9,190.4 396.8,191.4 395.1,192.7 394.5,193.9 391.2,193.9Z"/>
<path fill="#f6eff7" d="M391.2,193.9 394.5,193.9 395.1,192.7 396.8,191.4 399.2,192.9 401.7,192.9 403.1,194.7 402.3,195.5 399.8,195.0 396.0,194.7 395.6,196.5 399.6,200.4 401.8,201.7 398.6,200.4 394.6,197.3 393.6,195.0 391.1,195.0Z"/>
<path fill="#f6eff7" d="M406.4,203.2 408.2,202.4 410.0,202.2 411.6,204.8 407.2,206.1Z"/>
<path fill="#d0d1e6" d="M405.6,208.9 406.8,208.1 407.2,206.1 411.6,204.8 414.6,204.0 418.4,203.7 418.2,206.1 413.8,206.1 412.9,207.6 410.9,206.8 411.2,209.7 412.8,210.7 414.5,212.8 412.6,213.6 412.7,217.2 409.8,216.4 408.4,214.1 410.2,212.5 408.3,211.2 406.0,209.2ZM414.0,220.4 420.1,220.4 416.3,221.1Z"/>
<path fill="#f6eff7" d="M410.1,197.3 415.1,198.6 419.5,197.5 422.6,198.6 421.4,201.1 421.9,203.0 419.0,203.2 418.4,203.7 414.6,204.0 411.6,204.8 410.0,202.2 411.1,199.9 409.6,198.3Z"/>
<path fill="#f6eff7" d="M404.7,192.4 407.1,190.4 409.5,187.8 413.6,188.3 416.9,187.1 418.3,188.1 420.4,190.6 421.1,193.9 424.0,194.2 424.3,195.7 422.7,196.5 422.6,198.6 419.5,197.5 415.1,198.6 410.1,197.3 409.9,196.5 407.3,195.7Z"/>
<path fill="#f6eff7" d="M407.7,186.5 408.5,184.8 409.0,183.5 410.8,180.7 409.7,178.7 413.9,177.7 418.4,178.5 423.7,179.2 425.7,177.2 429.5,176.7 431.3,179.5 433.6,181.0 437.8,181.5 439.1,182.8 443.5,183.5 443.7,187.6 440.9,189.9 439.4,190.4 434.8,191.9 434.6,193.2 436.2,194.5 438.5,194.2 435.8,195.7 432.4,196.5 430.0,194.2 432.0,192.7 427.9,191.1 426.1,191.4 424.4,191.4 422.3,187.8 418.6,186.3 416.9,187.1 413.6,188.3 409.5,187.8Z"/>
<path fill="#f6eff7" d="M409.7,178.7 408.7,176.7 409.8,174.7 408.7,172.7 410.4,172.7 412.8,171.7 414.2,169.8 413.9,168.3 416.9,167.6 422.2,168.5 423.0,172.5 424.8,173.0 426.9,174.2 425.7,177.2 423.7,179.2 418.4,178.5 413.9,177.7Z"/>
<path fill="#f6eff7" d="M403.1,167.3 403.6,169.5 407.0,170.3 407.0,171.7 408.7,172.7 410.4,172.7 412.8,171.7 414.2,169.8 413.9,168.3 410.4,166.6 404.9,166.6Z"/>
<path fill="#f6eff7" d="M403.1,167.3 404.9,166.6 410.4,166.6 413.9,168.3 416.9,167.6 415.5,164.4 414.5,163.9 410.3,162.9 408.7,163.2 408.6,165.1 405.5,163.4 403.8,164.1 402.8,165.6Z"/>
<path fill="#f6eff7" d="M408.7,163.2 410.3,162.9 414.5,163.9 414.4,162.7 414.9,159.3 411.1,158.8 406.4,159.8 407.1,161.5Z"/>
<path fill="#f6eff7" d="M350.3,219.1 353.7,220.6 358.3,220.9 359.3,223.7 359.3,225.6 360.4,228.7 358.2,229.5 355.1,230.0 354.9,231.8 351.5,234.2 348.6,235.5 343.7,237.6 343.6,240.2 333.6,240.2 337.5,238.6 340.9,236.0 341.6,232.9 341.5,230.3 344.4,225.6 348.2,223.5 349.6,220.9Z"/>
<path fill="#f6eff7" d="M358.3,220.9 360.9,219.3 364.1,217.7 369.5,216.4 374.9,216.4 381.6,216.2 381.2,218.8 380.8,220.6 379.7,225.8 382.8,228.7 384.0,233.7 385.1,239.4 384.5,243.6 386.2,248.8 389.1,249.3 390.0,251.1 380.0,257.9 376.2,261.8 372.8,262.4 370.3,260.8 368.7,260.3 365.7,258.5 352.0,247.5 343.6,241.2 343.6,240.2 343.7,237.6 348.6,235.5 351.5,234.2 354.9,231.8 355.1,230.0 358.2,229.5 360.4,228.7 359.3,225.6 359.3,223.7Z"/>
<path fill="#f6eff7" d="M418.1,230.0 423.6,231.1 428.1,231.8 431.3,230.0 434.2,230.8 438.4,231.1 440.4,235.5 439.2,239.9 437.5,238.1 435.2,234.4 437.2,239.4 438.7,242.0 441.5,247.2 443.3,250.1 446.3,255.1 433.9,255.1 419.4,255.1Z"/>
<path fill="#d0d1e6" d="M399.7,387.1 400.9,390.5 402.8,396.0 403.2,400.9 403.3,402.0 406.5,403.3 412.1,401.2 418.9,401.2 423.2,399.1 428.0,394.1 432.4,389.2 435.1,386.6 436.5,382.4 434.6,381.1 434.7,376.1 433.6,370.9 429.4,370.1 423.8,374.1 421.4,376.9 419.0,379.5 414.6,378.5 412.3,380.3 409.5,382.4 407.9,377.2 407.3,386.8 401.7,387.6Z"/>
<path fill="#f6eff7" d="M440.6,235.7 441.4,239.4 444.9,244.6 447.3,249.1 451.3,256.4 453.7,261.6 456.6,265.8 460.5,269.7 461.7,266.8 463.1,267.1 468.6,267.6 470.0,268.4 472.1,265.5 481.0,262.9 488.7,255.1 487.4,253.2 481.2,249.3 479.0,249.3 478.9,248.3 477.0,248.0 475.1,244.6 473.5,241.8 471.0,239.4 470.6,238.1 469.1,238.1 466.4,236.5 462.2,236.3 455.9,231.3 449.1,228.4 444.5,230.3 447.0,232.9 443.9,235.5Z"/>
<path fill="#f6eff7" d="M483.9,269.2 488.7,266.5 491.3,264.2 494.1,262.9 495.4,259.2 497.9,254.0 494.9,250.9 492.1,250.1 489.6,247.5 488.4,249.1 488.7,255.1 481.0,262.9Z"/>
<path fill="#f6eff7" d="M479.0,249.3 481.2,249.3 487.4,253.2 488.7,255.1 488.4,249.1 489.6,247.5 489.0,244.6 487.4,245.9 485.5,249.3Z"/>
<path fill="#f6eff7" d="M477.0,248.0 478.9,248.3 478.5,244.4 477.2,244.6Z"/>
<path fill="#f6eff7" d="M466.4,236.5 469.1,238.1 470.6,238.1 469.3,234.4 467.7,233.9Z"/>
<path fill="#f6eff7" d="M449.1,228.4 455.9,231.3 462.2,236.3 466.4,236.5 467.7,233.9 469.3,234.4 470.6,234.2 468.2,231.6 467.5,226.4 463.8,226.4 462.1,223.7 461.8,218.8 459.5,215.4 454.1,215.4 452.3,217.5 452.3,222.7 447.9,225.3Z"/>
<path fill="#f6eff7" d="M438.4,231.1 439.5,226.9 439.9,226.1 441.3,225.6 441.1,227.1 441.2,230.3 440.6,235.7 440.4,235.5Z"/>
<path fill="#a6bddb" d="M418.1,206.6 418.4,203.7 419.0,203.2 421.9,203.0 424.3,205.0 428.5,205.3 432.4,203.0 436.6,202.7 440.9,204.8 444.2,205.8 448.6,205.5 450.7,204.2 454.9,205.3 455.4,206.8 458.3,208.9 457.9,212.3 459.5,215.4 454.1,215.4 449.3,216.2 445.0,216.4 442.2,216.4 441.4,218.5 440.4,217.7 441.2,217.0 437.7,216.4 433.3,218.3 429.1,216.7 427.0,218.0 423.9,216.7 421.9,214.6 419.4,212.5 420.2,210.7 418.8,209.4 420.9,207.1 419.5,207.4Z"/>
<path fill="#f6eff7" d="M433.2,220.9 438.0,219.3 436.7,221.1 434.6,222.2Z"/>
<path fill="#f6eff7" d="M458.0,205.0 461.3,205.5 461.1,203.5 463.9,205.0 465.3,203.5 468.1,206.6 467.6,210.7 467.7,212.3 465.6,211.0 462.4,211.2 459.1,208.1Z"/>
<path fill="#f6eff7" d="M458.3,208.9 457.9,212.3 459.5,215.4 461.8,218.8 462.1,223.7 463.8,226.4 467.5,226.4 468.2,231.6 470.6,234.2 473.6,233.7 475.8,237.1 477.7,239.7 482.5,242.5 485.5,243.3 488.7,241.8 491.3,245.1 496.4,246.2 500.9,247.0 501.3,244.1 504.0,241.5 502.7,238.6 498.2,235.5 497.8,234.4 498.9,230.5 496.2,225.0 494.9,223.2 495.7,219.6 490.3,214.6 486.2,213.3 482.1,213.3 480.9,214.9 479.1,215.4 474.1,216.4 468.5,214.4 467.7,212.3 465.6,211.0 462.4,211.2 461.3,211.0Z"/>
<path fill="#f6eff7" d="M463.4,191.6 460.6,188.3 459.1,188.3 457.1,186.5 457.1,184.0 459.2,183.0 460.3,182.5 463.5,178.5 468.2,179.5 474.0,181.0 476.2,179.7 482.2,180.5 485.1,179.2 481.3,177.5 482.5,175.2 481.8,173.5 482.4,172.5 489.2,171.5 494.3,170.0 499.1,169.5 501.1,172.2 505.7,172.5 507.0,173.2 511.3,172.0 514.9,174.2 522.1,180.2 526.0,180.5 528.7,180.0 533.1,182.5 536.7,183.0 539.0,184.8 537.4,189.9 532.2,189.6 532.5,193.9 528.8,195.5 530.7,201.7 531.6,203.0 528.3,200.9 524.1,200.6 517.9,199.6 517.1,201.7 513.3,200.9 511.8,202.2 508.5,204.5 506.9,206.1 502.9,203.2 501.0,200.4 498.1,198.6 492.3,199.1 483.4,193.7 478.7,195.2 481.2,204.8 479.1,205.0 476.6,202.2 474.4,202.7 473.5,203.5 473.6,201.9 470.1,199.9 467.4,197.0 468.9,194.7 472.3,194.5 471.8,190.9 467.5,190.1Z"/>
<path fill="#f6eff7" d="M478.7,195.2 483.4,193.7 492.3,199.1 498.1,198.6 501.0,200.4 502.9,203.2 506.9,206.1 508.5,204.5 511.8,202.2 513.3,200.9 517.6,205.8 515.2,207.6 512.9,207.6 512.7,205.5 510.6,207.9 508.9,209.4 507.0,210.2 509.0,215.4 506.1,214.9 500.8,211.0 495.4,208.1 491.8,205.0 489.0,202.4 485.7,201.1 481.2,204.8Z"/>
<path fill="#f6eff7" d="M473.5,203.5 474.4,202.7 476.6,202.2 479.1,205.0 481.2,204.8 485.7,201.1 489.0,202.4 491.8,205.0 495.4,208.1 500.8,211.0 506.1,214.9 502.4,217.7 499.1,220.4 495.7,219.6 490.3,214.6 486.2,213.3 482.1,213.3 480.9,214.9 479.1,215.4 477.9,211.0 476.2,209.9 474.9,205.8Z"/>
<path fill="#f6eff7" d="M500.9,247.0 505.4,246.4 512.1,246.2 513.8,247.8 516.4,250.6 517.8,249.3 522.5,248.8 520.2,245.4 518.2,242.5 520.0,239.4 522.9,239.7 525.7,234.4 527.6,231.6 528.1,227.9 526.5,227.7 524.3,224.0 525.3,222.4 528.3,221.7 531.7,219.8 524.4,215.7 519.6,216.4 517.6,218.0 518.0,221.4 515.8,223.7 515.4,229.2 512.3,230.0 509.6,234.7 501.6,235.7 497.8,234.4 498.2,235.5 502.7,238.6 504.0,241.5 501.3,244.1Z"/>
<path fill="#67a9cf" d="M516.4,250.6 518.8,253.8 522.4,257.9 527.0,256.4 528.1,262.9 530.5,270.7 533.3,275.9 536.5,283.0 538.6,287.7 541.1,291.3 542.9,289.2 544.9,285.6 546.1,282.5 546.7,278.5 545.9,272.0 550.4,269.2 553.8,264.7 557.8,260.5 559.5,256.4 563.7,255.6 563.5,252.7 562.2,249.8 560.8,248.3 562.2,245.9 560.0,243.6 564.0,244.9 569.3,247.0 569.4,249.8 568.3,251.4 569.8,252.5 571.5,256.4 572.2,255.1 573.2,254.5 573.2,252.5 574.8,250.4 575.1,246.7 576.2,243.1 579.1,240.2 579.7,238.6 576.6,236.8 574.6,236.8 572.8,236.0 568.0,239.9 568.5,241.2 568.5,242.5 564.9,242.5 561.8,242.5 561.1,241.2 559.2,239.7 559.8,243.6 554.7,243.1 550.3,241.0 548.8,241.2 543.1,238.4 540.9,237.3 542.2,233.7 537.8,230.8 535.9,228.4 536.0,226.4 532.3,220.1 531.7,219.8 528.3,221.7 525.3,222.4 524.3,224.0 526.5,227.7 528.1,227.9 527.6,231.6 525.7,234.4 522.9,239.7 520.0,239.4 518.2,242.5 520.2,245.4 522.5,248.8 517.8,249.3Z"/>
<path fill="#f6eff7" d="M563.9,255.3 567.2,255.1 570.0,254.0 571.5,256.4 569.8,252.5 568.3,251.4 569.4,249.8 569.3,247.0 564.0,244.9 560.0,243.6 562.2,245.9 560.8,248.3 562.2,249.8 563.5,252.7Z"/>
<path fill="#f6eff7" d="M546.4,287.2 549.6,290.0 551.3,293.4 550.1,296.3 547.3,296.8 546.5,292.9Z"/>
<path fill="#016450" d="M539.0,184.8 539.7,184.5 540.8,186.0 545.7,187.8 549.3,191.9 549.8,193.9 556.3,195.5 560.7,197.0 564.9,201.1 572.5,201.4 579.7,203.2 584.2,204.0 588.3,201.9 594.1,200.9 596.0,198.6 594.8,197.0 598.7,195.5 602.1,191.6 605.3,190.9 607.3,190.1 604.8,188.3 599.0,188.1 599.5,183.8 600.6,181.5 598.9,176.0 598.8,174.2 601.9,174.0 603.5,173.5 609.9,175.5 618.5,183.0 626.5,185.3 632.6,187.3 635.1,186.5 636.1,186.5 637.8,195.0 635.0,194.5 634.0,195.7 637.3,200.4 636.2,200.6 636.9,201.9 635.1,201.9 632.1,203.0 630.1,203.5 627.1,208.1 622.2,206.8 621.2,209.4 622.8,211.0 621.5,206.8 619.0,206.1 617.2,208.6 614.7,210.2 615.2,212.5 618.8,214.9 620.0,215.7 622.4,213.8 626.5,214.9 624.2,217.5 622.4,219.8 625.0,223.0 628.6,227.9 631.9,231.6 631.9,234.2 633.1,234.4 633.1,238.6 631.6,242.0 630.7,244.9 629.5,248.3 626.2,250.9 624.1,253.0 620.6,254.3 618.4,255.1 615.1,256.4 612.5,257.1 612.4,259.5 610.8,256.4 608.0,255.8 604.2,253.5 603.4,252.7 601.6,252.7 600.3,251.7 598.5,253.0 595.2,253.8 593.4,253.8 592.5,254.8 593.0,257.1 591.6,256.6 589.1,256.4 586.8,254.8 587.2,252.7 584.9,249.8 582.6,249.8 582.2,247.2 584.0,244.9 582.8,240.7 579.7,238.6 576.6,236.8 574.6,236.8 572.8,236.0 568.0,239.9 567.3,239.9 562.4,238.9 561.1,241.2 559.2,239.7 554.5,239.4 550.0,237.3 544.5,233.4 542.2,233.7 537.8,230.8 535.9,228.4 536.0,226.4 532.3,220.1 531.7,219.8 524.4,215.7 523.4,214.6 523.3,212.0 520.0,209.4 522.9,206.6 525.6,205.5 528.4,204.0 531.6,203.0 530.7,201.7 528.8,195.5 532.5,193.9 532.2,189.6 537.4,189.9ZM609.2,262.4 612.0,260.0 614.5,261.3 613.8,263.7 611.7,265.0Z"/>
<path fill="#d0d1e6" d="M633.5,252.5 634.4,247.0 636.6,247.8 635.6,255.1 633.8,253.0Z"/>
<path fill="#f6eff7" d="M634.0,213.8 635.5,216.2 637.9,221.1 640.3,222.2 643.6,220.6 643.0,218.0 641.7,215.7 637.5,211.8 635.1,212.5Z"/>
<path fill="#d0d1e6" d="M648.6,223.7 648.3,222.4 650.6,219.8 654.7,219.3 657.6,219.6 657.5,215.4 660.4,213.8 660.4,208.4 658.6,205.0 661.2,204.5 665.3,209.2 665.2,212.8 666.8,216.2 668.4,220.9 666.8,221.1 665.1,222.2 661.2,222.2 661.1,223.0 659.9,225.0 657.4,223.0 654.7,222.2 651.9,223.2ZM647.0,225.6 648.5,224.0 651.7,225.8 652.2,230.5 650.0,231.1 648.7,227.7ZM653.2,226.4 654.1,223.2 656.7,223.2 656.8,225.6 654.6,227.1ZM658.1,204.2 656.1,201.4 654.7,194.2 660.9,197.3 664.5,197.0 666.6,199.6 664.4,203.2 658.8,201.7 659.9,203.7Z"/>
<path fill="#f6eff7" d="M589.5,259.2 592.3,261.3 592.4,266.5 594.9,265.0 597.4,264.7 601.1,267.1 603.8,271.8 602.9,275.2 598.3,275.4 598.0,280.6 595.8,279.6 593.8,277.5 591.7,277.5 592.3,281.2 590.7,286.4 592.4,288.5 594.1,293.2 597.9,296.3 595.7,297.6 593.3,295.5 588.9,291.1 589.0,286.4 590.0,278.8 587.6,273.3 588.3,270.2 585.0,265.5 584.3,263.9 585.5,261.1 588.2,259.2Z"/>
<path fill="#d0d1e6" d="M608.0,255.8 605.3,257.7 603.9,260.3 602.8,262.9 605.4,267.1 609.8,270.5 612.6,276.5 613.4,281.7 612.4,283.0 609.6,285.3 607.7,287.7 604.2,290.0 603.5,286.4 602.5,285.3 605.6,283.8 606.8,282.2 609.2,280.4 608.8,275.2 608.2,272.0 606.3,269.7 603.9,266.0 600.3,262.9 599.4,260.3 595.9,258.2 595.3,255.8 593.4,253.8 595.2,253.8 598.5,253.0 600.3,251.7 601.6,252.7 603.4,252.7 604.2,253.5Z"/>
<path fill="#f6eff7" d="M593.3,295.5 593.9,299.4 596.4,304.6 601.6,309.1 603.2,308.6 601.1,302.0 601.1,299.7 597.9,296.3 595.7,297.6ZM615.6,307.3 618.8,308.6 623.3,304.1 626.7,300.7 629.9,296.8 632.1,294.2 637.4,298.4 634.7,299.7 634.5,301.8 629.1,303.6 626.9,308.6 622.3,308.6 618.4,309.6Z"/>
<path fill="#f6eff7" d="M615.6,307.3 618.4,309.6 622.3,308.6 626.9,308.6 629.1,303.6 634.5,301.8 634.9,306.5 637.3,310.1 633.9,312.5 633.8,315.1 631.7,318.5 630.2,322.4 627.0,322.4 623.3,320.6 618.7,320.3 616.9,320.0 616.5,316.4 614.3,312.5 614.2,308.6ZM582.3,297.9 587.4,298.9 594.4,306.7 595.8,307.3 602.3,309.9 603.9,315.1 607.2,320.3 606.5,327.6 603.5,327.9 599.1,323.4 595.7,319.0 593.5,313.8 591.2,309.9 588.1,305.7 585.0,301.5ZM605.0,330.2 608.1,328.1 612.6,329.4 617.1,330.5 621.7,330.5 626.2,332.8 626.0,335.2 618.1,334.1 612.4,332.8 607.9,331.8ZM637.8,326.8 636.7,320.3 638.5,313.3 641.0,309.9 644.2,309.9 650.0,309.3 651.3,308.3 648.9,311.7 641.5,311.2 641.9,314.8 647.5,314.8 643.0,317.2 645.2,320.8 646.7,325.0 642.8,324.5 641.6,319.5 640.1,326.8ZM629.5,334.4 636.5,333.9 635.6,336.0 631.3,336.0ZM638.2,334.7 645.7,333.9 645.1,335.4 638.6,335.7ZM656.8,307.8 658.5,311.2 658.1,314.6 656.7,311.9ZM657.9,320.8 664.3,321.6 662.0,322.4 658.3,321.9ZM664.9,316.4 664.5,314.8 672.1,314.8 674.0,321.1 680.8,316.4 687.9,319.3 686.8,336.2 682.4,333.6 679.2,334.4 680.4,330.7 676.1,325.0 671.6,322.9 668.8,323.2 667.1,319.8 670.6,318.7Z"/>
<path fill="#f6eff7" d="M636.8,264.2 640.4,264.2 641.3,268.1 640.2,271.0 641.8,275.9 646.7,278.5 644.2,276.5 641.1,275.4 638.5,274.9 636.5,270.7ZM643.6,294.2 646.9,292.1 650.8,286.9 653.9,294.2 651.8,297.9 648.3,295.5 644.0,294.5ZM647.6,279.9 651.2,283.8 649.4,286.4 647.9,283.0ZM642.5,281.7 645.4,283.2 644.2,285.1 642.8,284.5ZM645.0,284.0 646.6,285.9 645.5,289.0 644.1,286.6ZM632.3,290.5 637.1,283.0 636.9,285.6 633.0,291.1ZM638.1,277.2 641.0,278.3 640.5,280.4 639.3,279.6Z"/>
<path fill="#f6eff7" d="M414.0,156.7 415.8,155.0 418.8,152.2 416.2,149.4 416.7,147.1 414.3,143.9 413.9,140.3 411.4,138.9 411.4,137.0 414.2,135.4 418.1,136.3 424.1,136.9 431.0,139.8 433.6,142.1 428.8,143.6 423.4,144.1 423.8,147.3 428.6,148.7 432.5,147.1 434.3,147.3 432.7,145.0 437.2,143.0 439.6,143.9 437.4,138.7 441.3,140.0 447.8,139.4 453.1,138.0 456.7,138.5 460.3,137.4 463.6,137.1 464.3,135.4 470.5,136.0 474.5,136.3 473.2,133.9 473.8,130.7 473.9,128.6 479.0,129.0 480.9,132.8 485.7,138.3 489.7,142.7 489.6,139.8 483.4,131.7 485.9,130.7 488.5,129.8 490.6,127.5 492.3,130.7 498.0,131.7 499.2,127.3 498.2,124.6 504.1,122.8 511.9,121.6 517.8,119.0 522.5,120.4 529.1,120.8 537.1,122.8 541.6,127.1 550.1,127.5 559.6,127.5 563.8,127.7 572.6,130.9 577.7,131.7 584.0,131.5 587.4,129.8 588.9,129.2 598.1,130.0 607.0,131.7 612.1,133.0 620.3,133.0 626.2,133.9 631.6,136.3 637.6,135.8 641.3,135.0 646.3,135.0 653.3,135.2 660.8,136.3 665.1,137.4 678.3,146.2 676.9,147.1 681.0,152.0 685.6,152.4 677.8,153.6 676.9,157.9 668.6,157.9 664.6,158.4 668.7,162.7 671.7,167.1 674.7,167.6 675.8,171.3 676.0,175.0 675.5,177.5 674.1,180.0 667.0,173.7 661.1,168.8 656.5,163.9 658.4,162.7 659.4,160.3 656.2,156.7 656.8,152.7 652.7,154.1 647.4,153.8 647.9,159.1 645.5,160.3 638.2,159.6 632.6,159.6 627.1,160.5 627.0,163.2 626.2,166.3 627.6,171.0 623.7,171.0 630.3,173.0 639.2,174.7 641.0,177.5 644.1,182.5 646.6,186.3 645.7,190.1 644.8,196.5 644.4,199.1 641.3,200.9 638.4,200.1 636.8,201.4 636.9,201.9 636.2,200.6 637.3,200.4 634.0,195.7 635.0,194.5 637.8,195.0 636.1,186.5 635.1,186.5 632.6,187.3 626.5,185.3 618.5,183.0 609.9,175.5 603.5,173.5 601.9,174.0 598.8,174.2 598.9,176.0 600.6,181.5 599.5,183.8 596.7,182.8 590.6,181.7 584.3,184.5 581.2,184.3 575.6,181.7 570.7,181.7 567.0,181.2 556.2,177.5 557.3,180.0 558.9,181.5 558.1,183.3 552.7,182.5 546.4,180.5 542.6,183.5 539.7,184.5 539.0,184.8 536.7,183.0 533.1,182.5 528.7,180.0 526.0,180.5 522.1,180.2 514.9,174.2 511.3,172.0 507.0,173.2 505.7,172.5 501.1,172.2 499.1,169.5 494.3,170.0 489.2,171.5 482.4,172.5 481.8,173.5 482.5,175.2 481.3,177.5 485.1,179.2 482.2,180.5 476.2,179.7 474.0,181.0 468.2,179.5 463.5,178.5 460.3,182.5 459.2,183.0 457.1,184.0 457.1,186.5 459.1,188.3 460.6,188.3 463.4,191.6 462.9,193.2 461.0,193.7 459.7,196.3 462.4,200.6 465.3,203.5 463.9,205.0 461.1,203.5 457.0,201.1 455.0,201.4 451.8,199.9 446.4,199.3 442.4,196.8 439.5,195.5 441.0,192.2 440.9,189.9 443.7,187.6 443.5,183.5 439.1,182.8 437.8,181.5 433.6,181.0 431.3,179.5 429.5,176.7 425.7,177.2 426.9,174.2 424.8,173.0 423.0,172.5 422.2,168.5 416.9,167.6 415.5,164.4 414.5,163.9 414.4,162.7 414.9,159.3 418.7,158.1 415.6,156.7ZM401.1,171.5 407.0,171.7 407.0,170.3 403.6,169.5 401.6,170.3ZM446.6,131.3 449.9,124.7 456.5,121.7 467.2,120.6 464.7,123.1 455.7,125.0 452.4,128.8 457.3,133.8 451.5,133.0 447.4,132.6ZM492.7,114.0 497.7,112.4 507.5,114.8 508.4,116.8 502.6,117.3 495.2,115.6ZM510.0,116.5 515.8,116.5 517.4,118.1 511.7,118.1ZM572.0,122.6 574.9,122.0 586.0,123.2 592.5,123.8 588.1,125.4 578.6,124.8ZM637.9,171.7 643.6,175.5 651.5,184.3 655.1,185.8 655.8,191.4 654.8,192.7 649.3,185.5 642.4,177.7ZM426.4,113.2 436.2,113.5 434.8,114.9 427.8,114.9ZM61.0,137.4 64.5,137.8 65.4,140.0 68.7,141.8 69.3,143.6 65.1,145.0 59.0,147.5 56.2,147.1 54.9,145.5 51.8,145.2 47.8,146.2Z"/>
<path fill="#d0d1e6" d="M378.4,115.6 388.2,114.2 402.4,114.6 396.7,117.0 391.0,120.5 386.8,120.5 381.2,117.7ZM393.9,118.2 399.5,117.7 398.5,119.8 394.5,119.6Z"/>
<path fill="#a6bddb" d="M620.3,369.6 617.7,376.1 616.9,381.9 617.9,388.7 617.5,390.8 617.3,396.0 614.3,400.2 614.6,402.2 619.5,403.8 624.9,400.9 632.8,400.9 637.1,397.8 641.9,396.8 646.9,395.2 652.1,394.7 656.7,398.1 657.9,403.3 662.6,398.6 665.3,397.5 663.7,401.2 661.7,404.1 664.4,403.0 662.4,405.4 664.0,408.8 664.6,411.6 669.7,413.7 674.1,411.1 675.2,414.5 680.8,411.1 685.5,410.3 687.9,406.4 693.4,400.7 698.2,396.0 704.4,387.1 705.6,380.3 705.5,378.5 702.8,373.8 700.2,370.7 698.0,365.4 694.9,361.8 694.1,355.5 694.7,351.4 691.2,349.0 689.8,340.4 687.0,346.1 686.0,352.4 683.9,356.8 681.7,358.7 679.8,357.9 677.0,354.5 673.2,351.6 672.4,350.8 676.5,344.6 674.5,343.8 667.8,342.5 665.3,342.0 662.5,344.8 658.1,351.4 655.1,351.6 653.2,349.0 650.1,350.3 646.6,355.0 643.1,355.5 640.6,359.4 637.2,363.6 631.9,365.4 627.0,366.2ZM669.3,418.6 676.6,419.1 674.4,422.5 669.4,425.9 667.1,425.9 667.9,421.2Z"/>
<path fill="#f6eff7" d="M739.2,402.2 741.0,405.9 742.2,408.5 746.5,410.8 740.4,415.0 738.0,416.8 732.3,421.0 731.4,420.2 734.3,416.3 733.7,414.7 738.4,410.3 739.3,408.0 738.7,404.3ZM729.0,418.1 730.2,421.0 724.9,424.8 717.8,428.4 713.6,432.0 708.8,433.8 704.9,432.3 712.8,427.1 719.4,424.6 725.6,420.7Z"/>
<path class="nd" d="M422.8,390.5 426.6,387.1 428.2,389.5 424.9,392.3Z"/>
<path class="nd" d="M432.5,379.5 434.6,381.1 434.2,383.7 432.5,382.9Z"/>

</g>
<g id="legend">
<text class="lg" x="167.6" y="530" text-anchor="middle">No data</text>
<line x1="168" y1="534.5" x2="168" y2="537.2" stroke="#ccc" stroke-width="0.8"/>
<rect x="144.4" y="537.2" width="47.4" height="11.1" fill="url(#hatch2)" stroke="#bbb" stroke-width="0.8"/>
<g stroke="#ccc" stroke-width="0.8">
<line x1="211.6" y1="520" x2="211.6" y2="537.2"/>
<line x1="352.8" y1="520" x2="352.8" y2="537.2"/>
<line x1="494" y1="520" x2="494" y2="537.2"/>
<line x1="635.2" y1="520" x2="635.2" y2="537.2"/>
<line x1="282.2" y1="534" x2="282.2" y2="537.2"/>
<line x1="423.4" y1="534" x2="423.4" y2="537.2"/>
<line x1="564.6" y1="534" x2="564.6" y2="537.2"/>
</g>
<g stroke="#999" stroke-width="0.6">
<rect x="211.6" y="537.2" width="70.6" height="11.1" fill="#f6eff7"/>
<rect x="282.2" y="537.2" width="70.6" height="11.1" fill="#d0d1e6"/>
<rect x="352.8" y="537.2" width="70.6" height="11.1" fill="#a6bddb"/>
<rect x="423.4" y="537.2" width="70.6" height="11.1" fill="#67a9cf"/>
<rect x="494" y="537.2" width="70.6" height="11.1" fill="#3690c0"/>
<rect x="564.6" y="537.2" width="70.6" height="11.1" fill="#02818a"/>
<path d="M635.2,537.2 L700.6,537.2 L705.9,542.75 L700.6,548.3 L635.2,548.3 Z" fill="#016450" stroke="none"/>
<line x1="635.2" y1="537.2" x2="635.2" y2="548.3"/>
</g>
<text class="lg" x="211.6" y="515.5" text-anchor="middle">0 TWh</text>
<text class="lg" x="282.2" y="530" text-anchor="middle">20 TWh</text>
<text class="lg" x="352.8" y="515.5" text-anchor="middle">50 TWh</text>
<text class="lg" x="423.4" y="530" text-anchor="middle">100 TWh</text>
<text class="lg" x="494" y="515.5" text-anchor="middle">200 TWh</text>
<text class="lg" x="564.6" y="530" text-anchor="middle">500 TWh</text>
<text class="lg" x="635.2" y="515.5" text-anchor="middle">1,000 TWh</text>
</g>
</svg>
<div class="t" id="foot1"><b>Data source:</b> Energy Institute - Statistical Review of World Energy (2025)</div>
<div class="t" id="foot2">OurWorldinData.org/energy | CC BY</div>
</body></html>
